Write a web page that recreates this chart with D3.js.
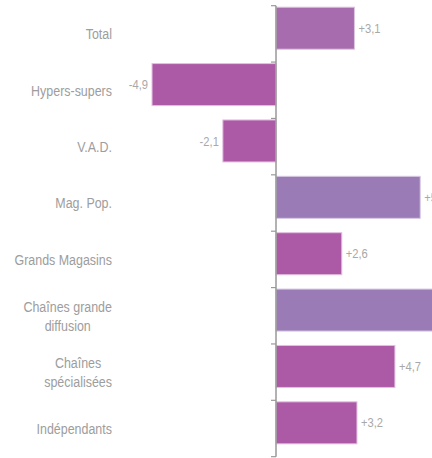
<!DOCTYPE html>
<html><head><meta charset="utf-8">
<script src="https://cdn.jsdelivr.net/npm/d3@7"></script>
<style>html,body{margin:0;padding:0;background:#fff;overflow:hidden}</style>
</head><body>
<svg id="c" width="432" height="458"></svg>
<script>
const categories = ["Total","Hypers-supers","V.A.D.","Mag. Pop.","Grands Magasins","Chaînes grande diffusion","Chaînes spécialisées","Indépendants"];
const labelLines = [["Total"],["Hypers-supers"],["V.A.D."],["Mag. Pop."],["Grands Magasins"],["Chaînes grande","diffusion"],["Chaînes","spécialisées"],["Indépendants"]];
const values = [3.1,-4.9,-2.1,5.7,2.6,7.0,4.7,3.2];
const colorGroup = ["total","main","main","alt","main","alt","main","main"];

const colors = {total:"#a76cad", main:"#ad5aa6", alt:"#9a7bb5"};
const strokes = {total:"#dcc3e0", main:"#e2bfe0", alt:"#d6c8e4"};

const svg = d3.select("#c");
const x = d3.scaleLinear().domain([-276/25.3, 156/25.3]).range([0,432]);
const y = d3.scaleBand().domain(categories).range([5.7,456.7]).padding(0);
const font = "'Liberation Sans','Arial',sans-serif";
const catScale = 0.83, valScale = 0.86;

// bars
svg.selectAll("rect.bar").data(categories).join("rect")
  .attr("class","bar")
  .attr("x",(d,i)=>x(Math.min(0,values[i])))
  .attr("width",(d,i)=>Math.abs(x(values[i])-x(0)))
  .attr("y",d=>y(d)+1.5)
  .attr("height",y.bandwidth()*0.745)
  .attr("fill",(d,i)=>colors[colorGroup[i]])
  .attr("stroke",(d,i)=>strokes[colorGroup[i]])
  .attr("stroke-width",1);

// axis
const axis = d3.axisLeft(y).tickSize(0).tickFormat("");
const ag = svg.append("g").attr("transform",`translate(${x(0)},0)`).call(axis);
ag.select(".domain").remove();
ag.append("line").attr("x1",0).attr("x2",0).attr("y1",y.range()[0]).attr("y2",y.range()[1])
  .attr("stroke","#999").attr("stroke-width",1.5);
const bounds = categories.map(c=>y(c)).concat([y.range()[1]]);
ag.selectAll("line.tk").data(bounds).join("line").attr("class","tk")
  .attr("x1",-5).attr("x2",0).attr("y1",d=>d).attr("y2",d=>d)
  .attr("stroke","#999").attr("stroke-width",1.2);

// category labels (condensed via horizontal scale)
const labelRight = 112;
categories.forEach((c,i)=>{
  const lines = labelLines[i];
  const cy = y(c)+y.bandwidth()/2;
  const lh = 19;
  const gs = lines.map((l,j)=>{
    const g = svg.append("g");
    const t = g.append("text")
      .attr("x",0).attr("y",0).attr("dy","0.35em")
      .attr("text-anchor","middle")
      .attr("font-family",font).attr("font-size",15).attr("fill","#9d9d9d")
      .text(l);
    return {g, t, yy: cy + (j-(lines.length-1)/2)*lh};
  });
  const maxW = d3.max(gs,o=>o.t.node().getComputedTextLength())*catScale;
  gs.forEach(o=>o.g.attr("transform",`translate(${labelRight-maxW/2},${o.yy}) scale(${catScale},1)`));
});

// value labels
const fmt = v => (v>0?"+":"-")+d3.format(".1f")(Math.abs(v)).replace(".",",");
svg.selectAll("g.val").data(categories).join("g")
  .attr("class","val")
  .attr("transform",(d,i)=>{
    const vx = values[i]>=0 ? x(values[i])+4 : x(values[i])-4;
    const vy = y(d)+1.5+y.bandwidth()*0.745/2;
    return `translate(${vx},${vy}) scale(${valScale},1)`;
  })
  .append("text")
  .attr("dy","0.35em")
  .attr("text-anchor",(d,i)=>values[i]>=0?"start":"end")
  .attr("font-family",font).attr("font-size",13).attr("fill","#a8a8a8")
  .text((d,i)=>fmt(values[i]));
</script>
</body></html>
